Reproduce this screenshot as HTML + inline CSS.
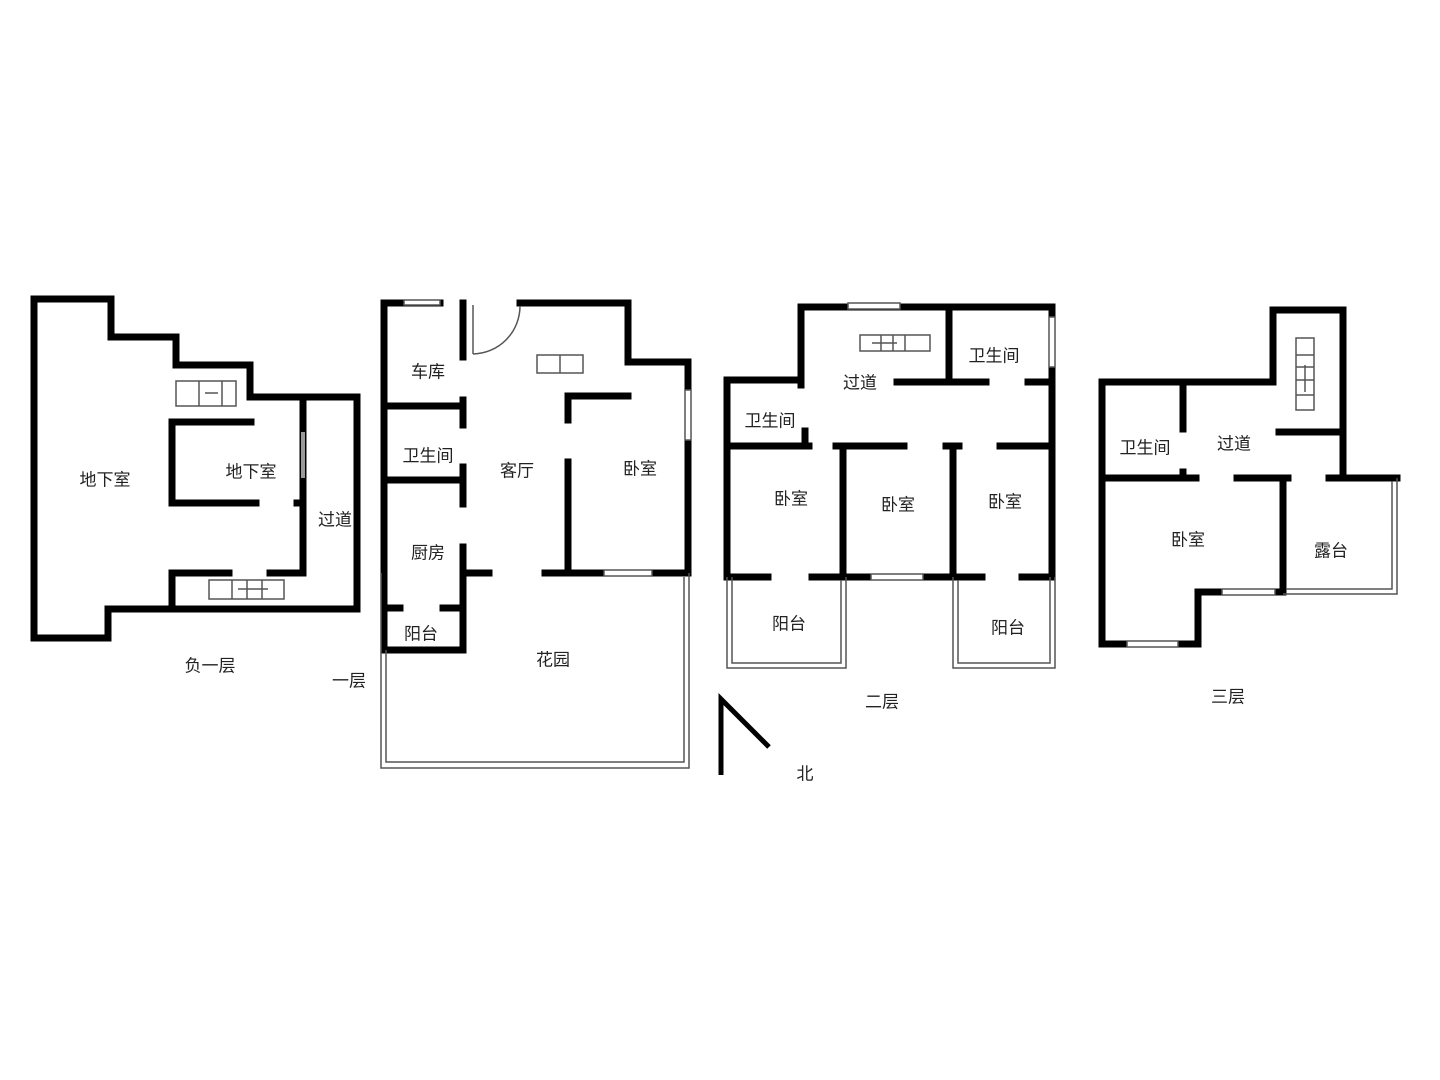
<!DOCTYPE html>
<html><head><meta charset="utf-8"><style>
html,body{margin:0;padding:0;background:#fff;}
svg{display:block}
text{font-family:"Liberation Sans","Noto Sans CJK SC",sans-serif;font-size:17px;fill:#222;text-anchor:middle;dominant-baseline:middle}
</style></head><body>
<svg width="1440" height="1080" viewBox="0 0 1440 1080" xmlns="http://www.w3.org/2000/svg">
<g fill="none" stroke="#000" stroke-width="7" stroke-linecap="square" stroke-linejoin="miter">
<!-- B1 -->
<polyline points="34,299 111,299 111,337 176,337 176,365 250,365 250,397 357,397 357,609 108,609 108,638 34,638 34,299"/>
<polyline points="251,422 172,422 172,503 256,503"/>
<line x1="303" y1="400" x2="303" y2="573"/>
<polyline points="229,573 172,573 172,609"/>
<line x1="270" y1="573" x2="303" y2="573"/>
<line x1="297" y1="503" x2="303" y2="503" />
<!-- F1 -->
<polyline points="520,303 628,303 628,362 688,362 688,573 545,573"/>
<polyline points="440,303 384,303 384,650 463,650 463,547"/>
<line x1="463" y1="303" x2="463" y2="357"/>
<line x1="463" y1="400" x2="463" y2="425"/>
<line x1="384" y1="406" x2="463" y2="406"/>
<line x1="384" y1="480" x2="463" y2="480"/>
<line x1="463" y1="467" x2="463" y2="504"/>
<line x1="463" y1="573" x2="489" y2="573"/>
<polyline points="568,420 568,396 628,396"/>
<line x1="568" y1="462" x2="568" y2="573"/>
<line x1="384" y1="608" x2="400" y2="608"/>
<line x1="443" y1="608" x2="463" y2="608"/>
<!-- F2 -->
<polyline points="801,385 801,307 1052,307 1052,577 1022,577"/>
<polyline points="801,380 727,380 727,577 768,577"/>
<line x1="949" y1="307" x2="949" y2="382"/>
<line x1="897" y1="382" x2="986" y2="382"/>
<line x1="1028" y1="382" x2="1052" y2="382"/>
<line x1="805" y1="431" x2="805" y2="446"/>
<line x1="727" y1="446" x2="809" y2="446"/>
<line x1="836" y1="446" x2="904" y2="446"/>
<line x1="946" y1="446" x2="959" y2="446"/>
<line x1="1000" y1="446" x2="1052" y2="446"/>
<line x1="843" y1="446" x2="843" y2="577"/>
<line x1="953" y1="446" x2="953" y2="577"/>
<line x1="812" y1="577" x2="982" y2="577"/>
<!-- F3 -->
<polyline points="1273,382 1273,310 1343,310 1343,478 1397,478"/>
<polyline points="1273,382 1102,382 1102,644 1198,644 1198,592 1283,592 1283,478"/>
<line x1="1102" y1="478" x2="1196" y2="478"/>
<line x1="1237" y1="478" x2="1288" y2="478"/>
<line x1="1329" y1="478" x2="1343" y2="478"/>
<line x1="1183" y1="382" x2="1183" y2="429"/>
<line x1="1183" y1="472" x2="1183" y2="478"/>
<line x1="1279" y1="432" x2="1343" y2="432"/>
</g>
<!-- north arrow -->
<g stroke="#000" stroke-width="5" fill="none">
<polyline points="721,775 721,699 769,747"/>
</g>
<!-- thin outlines -->
<g fill="none" stroke="#555" stroke-width="1.5">
<!-- garden -->
<polyline points="381,573 381,768 689,768 689,573"/>
<polyline points="386,650 386,762 684,762 684,577"/>
<!-- f2 balconies -->
<polyline points="727,577 727,668 846,668 846,577"/>
<polyline points="732,577 732,663 841,663 841,580"/>
<polyline points="953,577 953,668 1055,668 1055,577"/>
<polyline points="958,580 958,663 1050,663 1050,577"/>
<!-- f3 terrace -->
<polyline points="1283,594 1397,594 1397,478"/>
<polyline points="1286,589 1392,589 1392,481"/>
<!-- windows -->
<rect x="848" y="303" width="52" height="6" fill="#fff"/>
<rect x="871" y="574" width="52" height="6" fill="#fff"/>
<rect x="1049" y="317" width="6" height="50" fill="#fff"/>
<rect x="685" y="390" width="6" height="50" fill="#fff"/>
<rect x="604" y="570" width="48" height="6" fill="#fff"/>
<rect x="1127" y="641" width="51" height="6" fill="#fff"/>
<rect x="1222" y="589" width="53" height="6" fill="#fff"/>
<rect x="404" y="300" width="36" height="5" fill="#fff"/>
<!-- stairs -->
<rect x="176" y="381" width="60" height="25" fill="#fff"/>
<line x1="199" y1="381" x2="199" y2="406"/><line x1="222" y1="381" x2="222" y2="406"/>
<line x1="205" y1="393" x2="218" y2="393"/>
<rect x="209" y="580" width="75" height="19" fill="#fff"/>
<line x1="232" y1="580" x2="232" y2="599"/><line x1="247" y1="580" x2="247" y2="599"/><line x1="262" y1="580" x2="262" y2="599"/>
<line x1="238" y1="589" x2="268" y2="589"/>
<rect x="537" y="355" width="46" height="18" fill="#fff"/>
<line x1="560" y1="355" x2="560" y2="373"/>
<rect x="860" y="335" width="70" height="16" fill="#fff"/>
<line x1="881" y1="335" x2="881" y2="351"/><line x1="893" y1="335" x2="893" y2="351"/><line x1="905" y1="335" x2="905" y2="351"/>
<line x1="872" y1="343" x2="897" y2="343"/>
<rect x="1296" y="338" width="18" height="72" fill="#fff"/>
<line x1="1296" y1="355" x2="1314" y2="355"/><line x1="1296" y1="367" x2="1314" y2="367"/><line x1="1296" y1="380" x2="1314" y2="380"/><line x1="1296" y1="395" x2="1314" y2="395"/>
<line x1="1305" y1="365" x2="1305" y2="392"/>
<!-- door -->
<line x1="473" y1="305" x2="473" y2="354"/>
<path d="M473,354 A48,48 0 0 0 520,306"/>
<!-- gray window B1 -->
</g>
<rect x="301" y="432" width="4" height="46" fill="#999"/>
<g>
<text x="105" y="481">地下室</text>
<text x="251" y="473">地下室</text>
<text x="335" y="521">过道</text>
<text x="210" y="667">负一层</text>
<text x="428" y="373">车库</text>
<text x="428" y="457">卫生间</text>
<text x="517" y="472">客厅</text>
<text x="640" y="470">卧室</text>
<text x="428" y="554">厨房</text>
<text x="421" y="635">阳台</text>
<text x="553" y="661">花园</text>
<text x="349" y="682">一层</text>
<text x="860" y="384">过道</text>
<text x="994" y="357">卫生间</text>
<text x="770" y="422">卫生间</text>
<text x="791" y="500">卧室</text>
<text x="898" y="506">卧室</text>
<text x="1005" y="503">卧室</text>
<text x="789" y="625">阳台</text>
<text x="1008" y="629">阳台</text>
<text x="882" y="703">二层</text>
<text x="805" y="775">北</text>
<text x="1145" y="449">卫生间</text>
<text x="1234" y="445">过道</text>
<text x="1188" y="541">卧室</text>
<text x="1331" y="552">露台</text>
<text x="1228" y="698">三层</text>
</g>
</svg>
</body></html>
